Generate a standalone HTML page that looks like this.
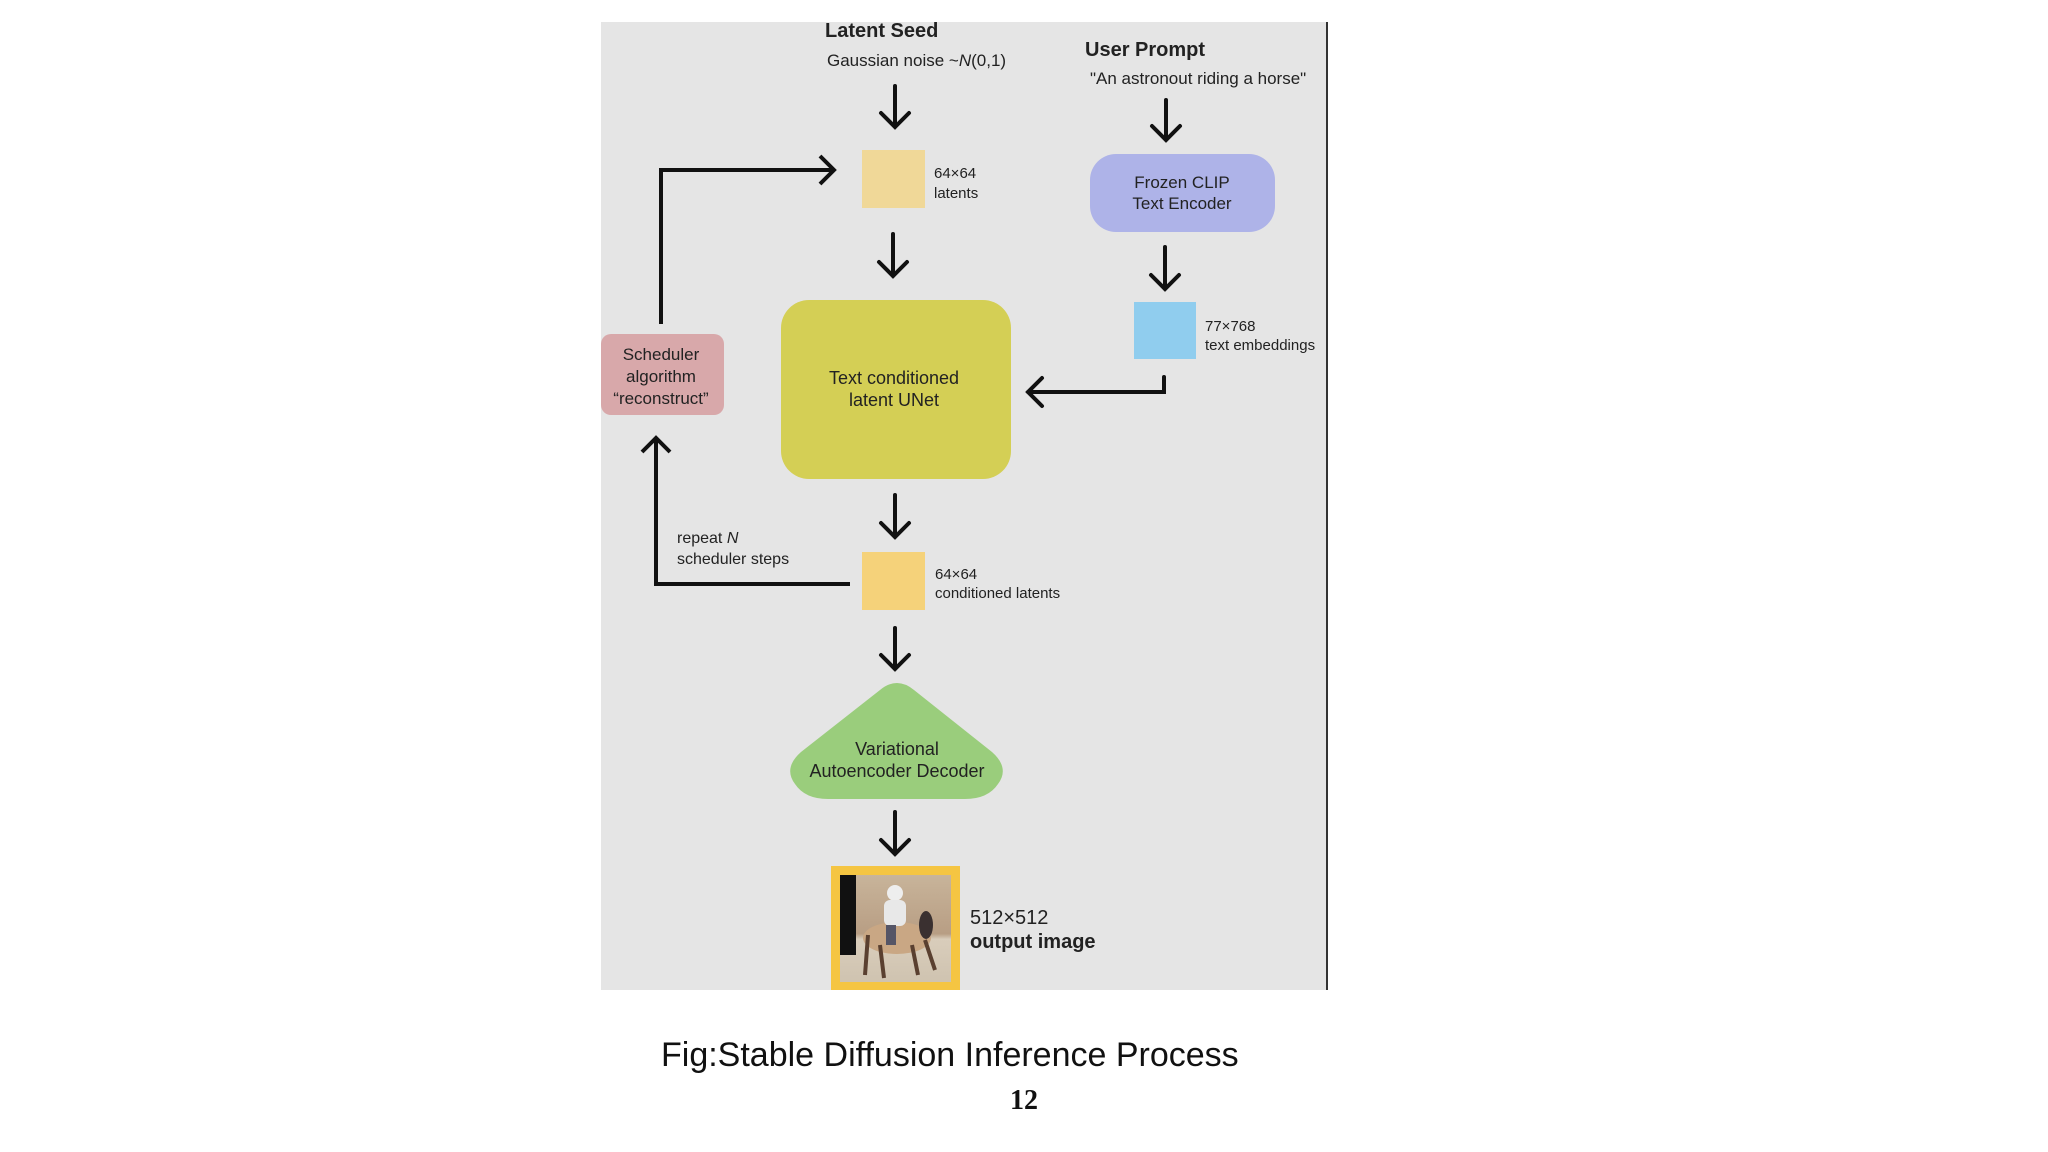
<!DOCTYPE html>
<html><head><meta charset="utf-8"><style>
html,body{margin:0;padding:0;background:#fff;}
body{width:2048px;height:1152px;overflow:hidden;}
svg{display:block;}
text{font-family:"Liberation Sans",sans-serif;fill:#222;}
</style></head><body>
<svg width="2048" height="1152" viewBox="0 0 2048 1152" xmlns="http://www.w3.org/2000/svg">
<defs>
<marker id="ah" markerWidth="12" markerHeight="12" refX="10" refY="6" orient="auto" markerUnits="userSpaceOnUse">
</marker>
<linearGradient id="bg" x1="0" y1="0" x2="0" y2="1">
<stop offset="0" stop-color="#c8b49a"/><stop offset="0.55" stop-color="#b89e84"/><stop offset="0.6" stop-color="#d9cdbb"/><stop offset="1" stop-color="#cfc3b0"/>
</linearGradient>
</defs>
<rect x="601" y="22" width="726" height="968" fill="#e5e5e5"/>
<line x1="1327" y1="22" x2="1327" y2="990" stroke="#333" stroke-width="2"/>

<g fill="none" stroke="#111" stroke-width="4" stroke-linecap="round" stroke-linejoin="miter">
<!-- arrows down -->
<path d="M895 86 V127 M881 113 L895 127 L909 113"/>
<path d="M893 234 V276 M879 262 L893 276 L907 262"/>
<path d="M1166 100 V140 M1152 126 L1166 140 L1180 126"/>
<path d="M1165 247 V289 M1151 275 L1165 289 L1179 275"/>
<path d="M895 495 V537 M881 523 L895 537 L909 523"/>
<path d="M895 628 V669 M881 655 L895 669 L909 655"/>
<path d="M895 812 V854 M881 840 L895 854 L909 840"/>
<!-- embeddings to unet -->
<path d="M1164 377 V392 H1028 M1042 378 L1028 392 L1042 406"/>
<!-- scheduler loop up -->
<path d="M661 324 V170 H834 M820 156 L834 170 L820 184" stroke-linecap="butt"/>
<!-- repeat loop -->
<path d="M850 584 H656 V438 M642 452 L656 438 L670 452" stroke-linecap="butt"/>
</g>

<text x="825" y="37" font-size="20" font-weight="bold">Latent Seed</text>
<text x="827" y="66" font-size="17">Gaussian noise ~<tspan font-style="italic">N</tspan>(0,1)</text>
<text x="1085" y="56" font-size="20" font-weight="bold">User Prompt</text>
<text x="1090" y="84" font-size="17">"An astronout riding a horse"</text>

<rect x="862" y="150" width="63" height="58" fill="#f0d898"/>
<text x="934" y="178" font-size="15">64×64</text>
<text x="934" y="198" font-size="15">latents</text>

<rect x="1090" y="154" width="185" height="78" rx="26" fill="#aeb3e8"/>
<text x="1182" y="188" font-size="17" text-anchor="middle">Frozen CLIP</text>
<text x="1182" y="209" font-size="17" text-anchor="middle">Text Encoder</text>

<rect x="1134" y="302" width="62" height="57" fill="#90cdee"/>
<text x="1205" y="331" font-size="15">77×768</text>
<text x="1205" y="350" font-size="15">text embeddings</text>

<rect x="781" y="300" width="230" height="179" rx="28" fill="#d4cf55"/>
<text x="894" y="384" font-size="18" text-anchor="middle">Text conditioned</text>
<text x="894" y="406" font-size="18" text-anchor="middle">latent UNet</text>

<rect x="601" y="334" width="123" height="81" rx="10" fill="#d8a8aa"/>
<text x="661" y="360" font-size="17" text-anchor="middle">Scheduler</text>
<text x="661" y="382" font-size="17" text-anchor="middle">algorithm</text>
<text x="661" y="404" font-size="17" text-anchor="middle">“reconstruct”</text>

<text x="677" y="543" font-size="16">repeat <tspan font-style="italic">N</tspan></text>
<text x="677" y="564" font-size="16">scheduler steps</text>

<rect x="862" y="552" width="63" height="58" fill="#f5d27a"/>
<text x="935" y="579" font-size="15">64×64</text>
<text x="935" y="598" font-size="15">conditioned latents</text>

<path d="M880 690 Q897 676 914 690 L992 752 Q1010 768 998 784 Q988 799 965 799 H828 Q805 799 795 784 Q783 768 801 752 Z" fill="#9acd7c"/>
<text x="897" y="755" font-size="18" text-anchor="middle">Variational</text>
<text x="897" y="777" font-size="18" text-anchor="middle">Autoencoder Decoder</text>

<rect x="831" y="866" width="129" height="124" fill="#f5c542"/>
<rect x="840" y="875" width="111" height="107" fill="url(#bg)"/>
<rect x="840" y="875" width="16" height="80" fill="#111"/>
<ellipse cx="897" cy="938" rx="34" ry="16" fill="#c9a784"/>
<path d="M868 935 L865 975 M880 945 L884 978 M912 945 L918 975 M925 940 L935 970" stroke="#5a4030" stroke-width="4"/>
<ellipse cx="926" cy="925" rx="7" ry="14" fill="#3a3030"/>
<circle cx="895" cy="893" r="8" fill="#eee"/>
<rect x="884" y="900" width="22" height="26" rx="6" fill="#e8e8e8"/>
<rect x="886" y="925" width="10" height="20" fill="#556"/>

<text x="970" y="924" font-size="20">512×512</text>
<text x="970" y="948" font-size="20" font-weight="bold">output image</text>

<text x="661" y="1066" font-size="34" fill="#111" style="fill:#111">Fig:Stable Diffusion Inference Process</text>
<text x="1024" y="1109" font-size="28" font-weight="bold" text-anchor="middle" style="font-family:'Liberation Serif',serif;fill:#111">12</text>
</svg>
</body></html>
